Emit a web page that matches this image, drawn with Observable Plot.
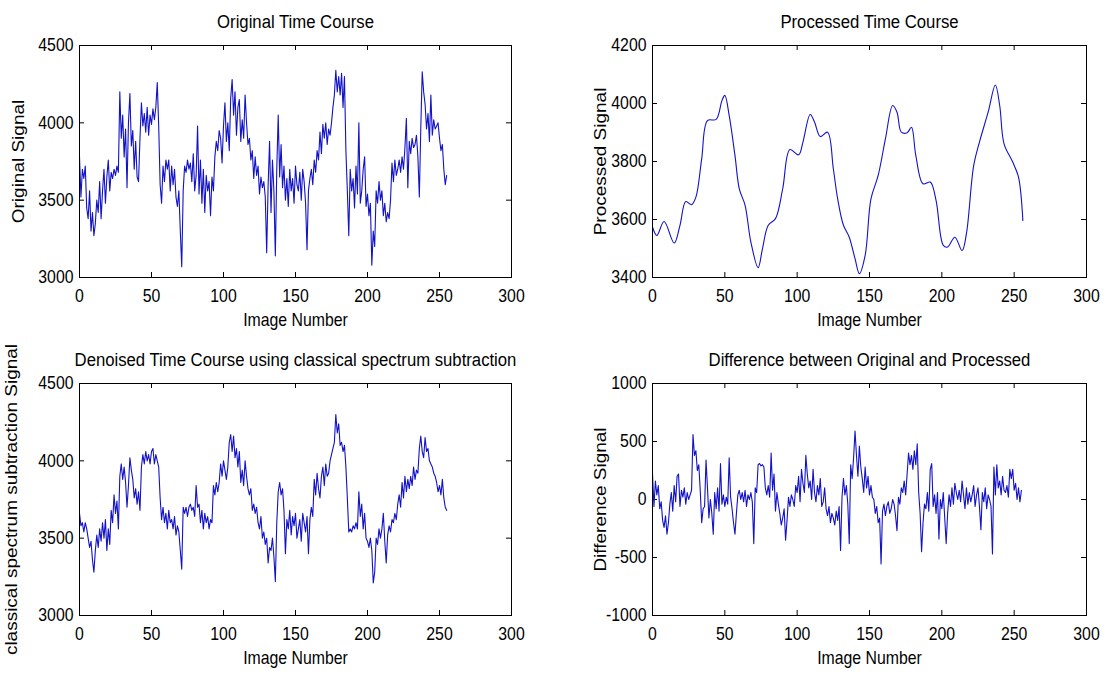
<!DOCTYPE html>
<html>
<head>
<meta charset="utf-8">
<script src="https://cdn.jsdelivr.net/npm/d3@7"></script>
<script src="https://cdn.jsdelivr.net/npm/@observablehq/plot@0.6"></script>
<style>
  html, body { margin: 0; padding: 0; background: #ffffff; }
  #fig { position: relative; width: 1106px; height: 686px; background: #ffffff; overflow: hidden; }
  #fig svg { position: absolute; overflow: visible; }
</style>
</head>
<body>
<div id="fig"></div>
<script>
// ---------- data ----------
const xTicks = [0, 50, 100, 150, 200, 250, 300];

const originalTicks = [3000, 3500, 4000, 4500];
const original = [
  3780, 3520, 3700, 3640, 3720, 3450, 3380, 3560, 3300, 3420, 3270, 3350, 3500, 3420, 3620, 3380,
  3560, 3700, 3480, 3650, 3760, 3560, 3680, 3640, 3700, 3660, 3720, 3680, 4200, 3900, 4050, 3780,
  3960, 3580, 4000, 4190, 3850, 3950, 3700, 3880, 3650, 3620, 3900, 4130, 3980, 4060, 3940, 4100,
  3920, 4050, 3990, 4090, 4020, 4100, 4260, 3980, 3600, 3480, 3720, 3620, 3760, 3700, 3760, 3560,
  3720, 3600, 3700, 3520, 3460, 3560, 3300, 3070, 3560, 3720, 3680, 3760, 3700, 3740, 3620, 3800,
  3560, 3660, 3980, 3540, 3760, 3480, 3700, 3420, 3660, 3560, 3620, 3400, 3650, 3560, 3780, 3880,
  3820, 3950, 3900, 3740, 3980, 4130, 3880, 4000, 3820, 4160, 4280, 4050, 4200, 3920, 4100, 4150,
  3880, 4020, 3900, 4180, 4000, 3860, 3900, 3760, 3820, 3640, 3780, 3660, 3720, 3540, 3650, 3580,
  3620, 3520, 3160, 3600, 3880, 3420, 3760, 3560, 3140, 3700, 4050, 3650, 3860, 3580, 3720, 3500,
  3640, 3460, 3700, 3560, 3640, 3480, 3720, 3600, 3560, 3680, 3500, 3700, 3620, 3480, 3180, 3560,
  3640, 3700, 3600, 3760, 3680, 3820, 3760, 3940, 3800, 3990, 3900, 4000, 3860, 3960, 3920, 4000,
  4100, 4180, 4340, 4200, 4300, 4180, 4320, 4100, 4300, 3820, 3560, 3270, 3700, 3560, 3640, 3450,
  3720, 3540, 4000, 3480, 3560, 3700, 3780, 3460, 3540, 3400, 3480, 3080, 3300, 3200, 3560, 3480,
  3620, 3500, 3560, 3400, 3480, 3360, 3420, 3380, 3500, 3740, 3620, 3760, 3660, 3700, 3760, 3680,
  3780, 3700, 3840, 4030, 3580, 3880, 3800, 3900, 3840, 3860, 3920, 3780, 3520, 3960, 4330, 4200,
  4120, 3960, 4060, 3880, 4180, 3920, 4020, 3960, 3980, 4000, 3900, 3820, 3860, 3700, 3600, 3660
];

const processedTicks = [3400, 3600, 3800, 4000, 4200];
const processedX = [0, 3, 8, 15, 19, 23, 27, 30, 34, 38, 44, 48, 50, 53, 57, 60, 64, 68, 73, 76, 80, 85, 90, 95, 101, 104, 109, 112, 116, 121, 125, 128, 132, 136, 140, 143, 147, 151, 156, 161, 166, 169, 172, 176, 179, 182, 187, 192, 196, 201, 204, 209, 214, 217, 222, 226, 232, 237, 240, 243, 249, 253, 256];
const processedY = [3574, 3545, 3593, 3519, 3580, 3662, 3651, 3677, 3809, 3941, 3945, 4010, 4028, 3959, 3821, 3706, 3649, 3522, 3434, 3499, 3580, 3603, 3706, 3841, 3823, 3867, 3962, 3936, 3886, 3901, 3775, 3671, 3580, 3539, 3465, 3413, 3476, 3671, 3752, 3878, 3993, 3970, 3901, 3899, 3918, 3821, 3723, 3729, 3666, 3511, 3505, 3539, 3493, 3551, 3786, 3867, 3970, 4064, 3993, 3861, 3798, 3746, 3597];

const denoisedTicks = [3000, 3500, 4000, 4500];
const denoised = [
  3660, 3580, 3600, 3540, 3600, 3560, 3500, 3440, 3480, 3360, 3280, 3420, 3520, 3440, 3560, 3480,
  3600, 3500, 3620, 3420, 3560, 3460, 3680, 3600, 3780, 3660, 3740, 3560, 3900, 3980, 3880, 3960,
  3860, 3700, 3840, 4020, 3940, 3880, 3760, 3820, 3720, 3800, 3680, 3960, 4040, 3980, 4060, 4000,
  4040, 3980, 4060, 4080, 3980, 4040, 4000, 3960, 3760, 3620, 3700, 3600, 3660, 3560, 3680, 3600,
  3620, 3560, 3640, 3520, 3580, 3540, 3420, 3300, 3700, 3660, 3700, 3640, 3700, 3720, 3680, 3700,
  3640, 3840, 3700, 3720, 3600, 3680, 3560, 3660, 3600, 3640, 3560, 3620, 3600, 3840, 3780, 3860,
  3800, 3860, 3980, 3900, 4000, 3940, 3880, 3960, 4120, 4170, 4060, 4160, 4020, 4080, 3960, 4060,
  3860, 3940, 3840, 4000, 3900, 3820, 3780, 3820, 3680, 3720, 3660, 3700, 3600, 3560, 3640, 3500,
  3540, 3460, 3500, 3340, 3440, 3420, 3500, 3380, 3220, 3600, 3800, 3860, 3780, 3820, 3680, 3400,
  3620, 3560, 3680, 3520, 3640, 3580, 3660, 3500, 3560, 3620, 3480, 3660, 3600, 3540, 3640, 3400,
  3620, 3700, 3640, 3880, 3780, 3920, 3820, 3760, 3900, 3960, 3840, 3980, 3900, 3920, 4000, 4040,
  4080, 4120, 4300, 4180, 4240, 4100, 4120, 4060, 4100, 3960, 3760, 3540, 3560, 3540, 3580, 3560,
  3600, 3560, 3800, 3640, 3720, 3560, 3660, 3500, 3480, 3440, 3500, 3420, 3210, 3280, 3500, 3460,
  3560, 3500, 3560, 3660, 3480, 3340, 3520, 3580, 3540, 3620, 3600, 3660, 3620, 3720, 3780, 3700,
  3860, 3760, 3900, 3800, 3880, 3820, 3900, 3840, 3960, 3880, 3940, 3920, 4080, 4160, 4060, 4020,
  4150, 4060, 4080, 4000, 3980, 3960, 3920, 3900, 3860, 3800, 3840, 3780, 3880, 3760, 3700, 3680
];

const differenceTicks = [-1000, -500, 0, 500, 1000];
const difference = [
  220, -60, 160, 40, 120, -80, -20, -180, -240, -140, -300, -200, -40, 60, -100, 120,
  -20, 200, 220, -60, 80, 20, 100, -40, 60, 0, 40, 80, 560, 380, 420, 250,
  300, 80, -200, -80, -60, 340, 100, -160, 0, -120, -300, 60, -80, 100, -100, 310,
  -40, 40, -60, 20, -40, 360, 20, -80, -200, -300, -120, 40, 80, 0, 60, -20,
  80, -60, 40, 0, 60, -20, -380, 100, 60, 300, 310, 290, 300, 280, 100, 40,
  120, 20, 400, 80, 220, -100, 60, -40, -120, -220, -160, -80, -350, -180, 20, -60,
  40, 0, -60, 120, 60, 200, -20, 260, 140, 60, 380, 220, 100, 160, 0, 260,
  60, -20, 120, 40, 180, -60, -20, 100, -80, -140, -60, -200, -120, -160, -220, -100,
  -180, -60, -440, 20, 180, 40, 120, -40, -380, 300, 180, 360, 590, 380, 200, 460,
  280, 180, 60, 280, 100, 200, 40, 120, 20, 0, -120, -60, -200, -160, -555, -100,
  -40, -140, -60, -20, -120, -80, 0, -40, -140, -270, 20, -40, 100, 60, 160, 40,
  220, 400, 300, 380, 260, 420, 300, 480, 60, -120, -450, -200, -40, -80, 60, -100,
  260, 310, -60, 40, -120, 60, -340, 0, -80, 60, -160, -380, -120, 40, -60, 100,
  -40, 140, 60, 0, 80, -20, 160, 40, -80, 100, -40, 60, -20, 40, 120, -60,
  40, 100, -60, -260, 60, -20, 100, -80, 40, 0, -60, -470, 280, 40, 300, 100,
  160, 40, 200, 80, 60, 120, 20, 260, 180, 260, 80, 140, 0, 100, -20, 80
];

const titles = [
  "Original Time Course",
  "Processed Time Course",
  "Denoised Time Course using classical spectrum subtraction",
  "Difference between Original and Processed"
];
const yLabels = ["Original Signal", "Processed Signal", "classical spectrum subtraction Signal", "Difference Signal"];
const xLabel = "Image Number";

// ---------- drawing ----------
const FONT = "'Liberation Sans', Arial, Helvetica, sans-serif";
const SQUEEZE = 0.88;            // the reference text is horizontally condensed
const LINE = "#1212c8";
const W = 553, H = 343;

function condenseText(svg) {
  svg.querySelectorAll("text").forEach(t => {
    let tr = t.getAttribute("transform");
    if (!tr) {
      const x = +t.getAttribute("x") || 0, y = +t.getAttribute("y") || 0;
      t.removeAttribute("x"); t.removeAttribute("y");
      tr = `translate(${x},${y})`;
    }
    t.setAttribute("transform", tr + (tr.includes("rotate") ? ` scale(1,${SQUEEZE})` : ` scale(${SQUEEZE},1)`));
  });
}

function panel({lineMark, yDomain, yTicks, title, ylabel, left, top, ml, mr, mt, mb, ylabelDx}) {
  const fw = W - ml - mr, fh = H - mt - mb;
  const chart = Plot.plot({
    width: W, height: H,
    marginLeft: ml, marginRight: mr, marginTop: mt, marginBottom: mb,
    x: {domain: [0, 300]},
    y: {domain: yDomain},
    style: {fontFamily: FONT, fontSize: "18px", background: "transparent", overflow: "visible", color: "#000"},
    marks: [
      Plot.tickX(xTicks, {x: d => d, insetTop: fh - 5, stroke: "#000"}),
      Plot.tickX(xTicks, {x: d => d, insetBottom: fh - 5, stroke: "#000"}),
      Plot.tickY(yTicks, {y: d => d, insetRight: fw - 5, stroke: "#000"}),
      Plot.tickY(yTicks, {y: d => d, insetLeft: fw - 5, stroke: "#000"}),
      lineMark,
      Plot.frame({stroke: "#000", strokeWidth: 1}),
      Plot.axisX(xTicks, {tickSize: 0, tickPadding: 12, label: null, tickFormat: d => String(d), fill: "#000"}),
      Plot.axisY(yTicks, {tickSize: 0, tickPadding: 6, label: null, tickFormat: d => String(d), fill: "#000"}),
      Plot.text([title], {text: d => d, frameAnchor: "top", dy: -24, textAnchor: "middle", lineAnchor: "middle",
                          fontSize: 19, fill: "#000"}),
      Plot.text([xLabel], {text: d => d, frameAnchor: "bottom", dy: 43, textAnchor: "middle", lineAnchor: "middle", fill: "#000"}),
      Plot.text([ylabel], {text: d => d, frameAnchor: "left", dx: ylabelDx, rotate: -90, textAnchor: "middle",
                           lineAnchor: "middle", fontSize: 19, fill: "#000"})
    ]
  });
  condenseText(chart);
  chart.style.left = left + "px";
  chart.style.top = top + "px";
  document.getElementById("fig").appendChild(chart);
}

const idx = (d, i) => i;

panel({
  lineMark: Plot.line(original, {x: idx, y: d => d, stroke: LINE, strokeWidth: 1.1}),
  yDomain: [3000, 4500], yTicks: originalTicks, title: titles[0], ylabel: yLabels[0],
  left: 0, top: 0, ml: 79, mr: 42, mt: 45, mb: 66, ylabelDx: -61
});
panel({
  lineMark: Plot.line(processedY, {x: (d, i) => processedX[i], y: d => d, stroke: LINE, strokeWidth: 1.1, curve: "catmull-rom"}),
  yDomain: [3400, 4200], yTicks: processedTicks, title: titles[1], ylabel: yLabels[1],
  left: 553, top: 0, ml: 99, mr: 20, mt: 45, mb: 66, ylabelDx: -52
});
panel({
  lineMark: Plot.line(denoised, {x: idx, y: d => d, stroke: LINE, strokeWidth: 1.1}),
  yDomain: [3000, 4500], yTicks: denoisedTicks, title: titles[2], ylabel: yLabels[2],
  left: 0, top: 343, ml: 79, mr: 42, mt: 40, mb: 71, ylabelDx: -68
});
panel({
  lineMark: Plot.line(difference, {x: idx, y: d => d, stroke: LINE, strokeWidth: 1.1}),
  yDomain: [-1000, 1000], yTicks: differenceTicks, title: titles[3], ylabel: yLabels[3],
  left: 553, top: 343, ml: 99, mr: 20, mt: 40, mb: 71, ylabelDx: -52
});
</script>
</body>
</html>
